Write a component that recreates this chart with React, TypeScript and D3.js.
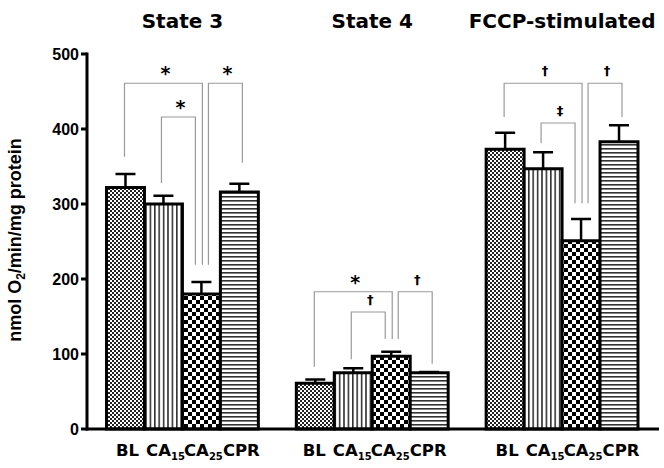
import React from "react";
import * as d3 from "d3";

const groups = ["State 3", "State 4", "FCCP-stimulated"];
const conditions = ["BL", "CA15", "CA25", "CPR"];
const conditionBase = ["BL", "CA", "CA", "CPR"];
const conditionSub = ["", "15", "25", ""];

const state3Mean = [322, 300, 180, 316];
const state3Sem = [18, 11, 16, 11];
const state4Mean = [61, 75, 97, 75];
const state4Sem = [5, 6, 6, 1];
const fccpMean = [373, 347, 251, 383];
const fccpSem = [22, 22, 29, 22];

const yTicks = [0, 100, 200, 300, 400, 500];

// brackets: [group, fromIdx, toIdx, topValue, fromEndValue, toEndValue, symbol]
const brackets: [number, number, number, number, number, number, string][] = [
  [0, 0, 2, 461, 363, 219, "*"],
  [0, 1, 2, 416, 328, 219, "*"],
  [0, 2, 3, 461, 219, 355, "*"],
  [1, 0, 2, 183, 83, 120, "*"],
  [1, 1, 2, 156, 93, 120, "†"],
  [1, 2, 3, 183, 120, 87, "†"],
  [2, 0, 2, 461, 416, 301, "†"],
  [2, 1, 2, 408, 381, 301, "‡"],
  [2, 2, 3, 461, 301, 416, "†"],
];

const means = [state3Mean, state4Mean, fccpMean];
const sems = [state3Sem, state4Sem, fccpSem];
const patterns = ["pBL", "pCA15", "pCA25", "pCPR"];

export default function App() {
  const W = 664, H = 468;
  const y = d3.scaleLinear().domain([0, 500]).range([429, 54]);
  const x0 = d3.scaleBand<string>().domain(groups).range([106.5, 638]).paddingInner(0.2).paddingOuter(0);
  const x1 = d3.scaleBand<string>().domain(conditions).range([0, x0.bandwidth()]).padding(0);
  const bw = x1.bandwidth();
  const cx = (g: number, i: number) => (x0(groups[g]) as number) + (x1(conditions[i]) as number) + bw / 2;

  const bracketDx = (from: number, to: number) => {
    if (from === 0 && to === 2) return [-1, 1];
    if (from === 1 && to === 2) return [-2, -6];
    return [7, 3];
  };

  const titleHalf = [41, 41, 94];
  const dagFont = "DejaVu Sans, sans-serif";

  return (
    <svg width={W} height={H} style={{ position: "absolute", left: 0, top: 0, background: "#fff" }}>
      <defs>
        <pattern id="pBL" patternUnits="userSpaceOnUse" width={4} height={4}>
          <rect width={4} height={4} fill="#fff" />
          <rect x={0} y={0} width={2} height={2} fill="#222" />
          <rect x={2} y={2} width={2} height={2} fill="#222" />
        </pattern>
        <pattern id="pCA15" patternUnits="userSpaceOnUse" width={4.4} height={10}>
          <rect width={4.4} height={10} fill="#fff" />
          <rect x={0} y={0} width={1.6} height={10} fill="#333" />
        </pattern>
        <pattern id="pCA25" patternUnits="userSpaceOnUse" width={8} height={8}>
          <rect width={8} height={8} fill="#fff" />
          <rect x={0} y={0} width={4} height={4} fill="#000" />
          <rect x={4} y={4} width={4} height={4} fill="#000" />
        </pattern>
        <pattern id="pCPR" patternUnits="userSpaceOnUse" width={10} height={4}>
          <rect width={10} height={4} fill="#fff" />
          <rect x={0} y={0} width={10} height={1.6} fill="#333" />
        </pattern>
      </defs>

      {/* titles */}
      {groups.map((g, gi) => {
        const c = (x0(g) as number) + x0.bandwidth() / 2;
        const xc = Math.min(c, 660 - titleHalf[gi]);
        return (
          <text key={g} x={xc} y={28} textAnchor="middle" fontFamily="DejaVu Sans, sans-serif"
            fontWeight="bold" fontSize={20}>
            {g}
          </text>
        );
      })}

      {/* brackets */}
      {brackets.map((b, k) => {
        const [g, f, t, top, fe, te, sym] = b;
        const [dl, dr] = bracketDx(f, t);
        const xl = cx(g, f) + dl, xr = cx(g, t) + dr;
        const yt = y(top);
        const isStar = sym === "*";
        return (
          <g key={k}>
            <path d={`M${xl},${y(fe)}V${yt}H${xr}V${y(te)}`} fill="none" stroke="#9a9a9a" strokeWidth={1.2} />
            <text x={(xl + xr) / 2 + 2} y={isStar ? yt - 3 : yt - 8} textAnchor="middle"
              fontFamily={dagFont} fontWeight="bold" fontSize={isStar ? 19 : 13}>{sym}</text>
          </g>
        );
      })}

      {/* bars */}
      {groups.map((g, gi) =>
        conditions.map((c, i) => {
          const v = means[gi][i];
          const e = sems[gi][i];
          const bx = (x0(g) as number) + (x1(c) as number);
          const xc = bx + bw / 2;
          return (
            <g key={g + c}>
              <line x1={xc} x2={xc} y1={y(v)} y2={y(v + e)} stroke="#000" strokeWidth={2.5} />
              <line x1={xc - 10} x2={xc + 10} y1={y(v + e)} y2={y(v + e)} stroke="#000" strokeWidth={2.5} />
              <rect x={bx} y={y(v)} width={bw} height={y(0) - y(v)} fill={`url(#${patterns[i]})`}
                stroke="#000" strokeWidth={3} />
            </g>
          );
        })
      )}

      {/* axes */}
      <line x1={87} x2={87} y1={y(500) - 1.5} y2={y(0) + 1.5} stroke="#000" strokeWidth={3} />
      <line x1={86} x2={659} y1={y(0)} y2={y(0)} stroke="#000" strokeWidth={3} />
      {yTicks.map((t) => (
        <g key={t}>
          <line x1={81} x2={87} y1={y(t)} y2={y(t)} stroke="#000" strokeWidth={3} />
          <text x={79} y={y(t)} dy="0.36em" textAnchor="end" fontFamily="Liberation Sans, Arial, sans-serif"
            fontWeight="bold" fontSize={16}>{t}</text>
        </g>
      ))}

      {/* x labels */}
      {groups.map((g, gi) =>
        conditions.map((c, i) => (
          <text key={g + c + "l"} x={cx(gi, i) + (gi === 1 ? -1 : 2)} y={456} textAnchor="middle"
            fontFamily="DejaVu Sans, sans-serif" fontWeight="bold" fontSize={16.5}>
            {conditionBase[i]}
            {conditionSub[i] && <tspan fontSize={10} dy={4}>{conditionSub[i]}</tspan>}
          </text>
        ))
      )}

      {/* y label */}
      <text transform="translate(21,240) rotate(-90)" textAnchor="middle"
        fontFamily="Liberation Sans, Arial, sans-serif" fontWeight="bold" fontSize={18}>
        nmol O<tspan fontSize={12} dy={4}>2</tspan><tspan dy={-4}>/min/mg protein</tspan>
      </text>
    </svg>
  );
}
